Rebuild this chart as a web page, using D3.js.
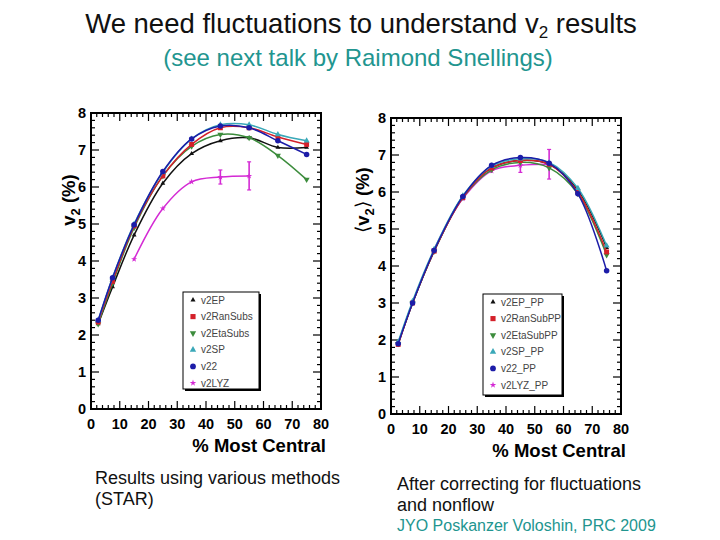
<!DOCTYPE html>
<html>
<head>
<meta charset="utf-8">
<script src="https://cdn.jsdelivr.net/npm/d3@7"></script>
<style>
  body { margin: 0; background: #fff; }
  svg { display: block; font-family: Arial, "Liberation Sans", sans-serif; }
</style>
</head>
<body>
<svg id="chart" width="720" height="540"></svg>
<script>
// centrality bins (% most central)
const centrality = [2.5, 7.5, 15, 25, 35, 45, 55, 65, 75];
const xTicks = [0, 10, 20, 30, 40, 50, 60, 70, 80];
const yTicks = [0, 1, 2, 3, 4, 5, 6, 7, 8];

// left panel: raw STAR results
const leftNames = ["v2EP", "v2RanSubs", "v2EtaSubs", "v2SP", "v22", "v2LYZ"];
const v2EP      = [2.3, 3.3, 4.7, 6.1, 6.9, 7.25, 7.33, 7.07, 7.07];
const v2RanSubs = [2.35, 3.45, 4.95, 6.3, 7.15, 7.6, 7.6, 7.35, 7.15];
const v2EtaSubs = [2.3, 3.4, 4.9, 6.3, 7.1, 7.42, 7.33, 6.85, 6.2];
const v2SP      = [2.4, 3.55, 5.0, 6.4, 7.3, 7.68, 7.68, 7.42, 7.25];
const v22       = [2.4, 3.55, 4.98, 6.42, 7.3, 7.65, 7.6, 7.25, 6.88];
const v2LYZ     = [null, null, 4.05, 5.42, 6.14, 6.27, 6.3, null, null];
const v2LYZerr  = [0, 0, 0, 0, 0, 0.19, 0.38, 0, 0];

// right panel: corrected for fluctuations and nonflow
const rightNames = ["v2EP_PP", "v2RanSubPP", "v2EtaSubPP", "v2SP_PP", "v22_PP", "v2LYZ_PP"];
const v2EP_PP    = [1.9, 3.0, 4.4, 5.88, 6.65, 6.85, 6.75, 6.05, 4.5];
const v2RanSubPP = [1.88, 3.0, 4.4, 5.85, 6.65, 6.85, 6.75, 6.0, 4.38];
const v2EtaSubPP = [1.9, 3.0, 4.4, 5.85, 6.6, 6.8, 6.65, 5.95, 4.3];
const v2SP_PP    = [1.95, 3.05, 4.45, 5.9, 6.7, 6.9, 6.8, 6.1, 4.55];
const v22_PP     = [1.9, 3.0, 4.42, 5.88, 6.72, 6.93, 6.78, 5.95, 3.87];
const v2LYZ_PP   = [null, null, 4.45, 5.82, 6.57, 6.72, 6.75, null, null];
const v2LYZ_PPerr = [0, 0, 0, 0, 0, 0.19, 0.4, 0, 0];

const colors  = ["#111111", "#d4202a", "#3c8c3c", "#3aa8b8", "#1c1ca8", "#d42ad4"];
const symbols = [d3.symbolTriangle, d3.symbolSquare, d3.symbolTriangle, d3.symbolTriangle, d3.symbolCircle, d3.symbolStar];
const symSize = [10, 24, 16, 16, 24, 12];
const symRot  = [0, 0, 180, 0, 0, 0];
const drawOrder = [5, 0, 2, 1, 3, 4];

const svg = d3.select("#chart");

// titles
svg.append("text").attr("x", 361).attr("y", 33).attr("text-anchor", "middle")
  .attr("font-size", 27.5).attr("fill", "#111")
  .html('We need fluctuations to understand v<tspan font-size="17" dy="5">2</tspan><tspan dy="-5"> results</tspan>');
svg.append("text").attr("x", 358).attr("y", 66).attr("text-anchor", "middle")
  .attr("font-size", 24).attr("fill", "#22958f")
  .text("(see next talk by Raimond Snellings)");

function panel(opt) {
  const g = svg.append("g");
  const x = d3.scaleLinear().domain([0, 80]).range([opt.left, opt.right]);
  const y = d3.scaleLinear().domain([0, 8]).range([opt.bottom, opt.top]);

  // minor + major ticks on all sides (pointing inward)
  const xMinor = d3.range(0, 80.01, 2), yMinor = d3.range(0, 8.001, 0.2);
  const tk = g.append("g").attr("stroke", "#000").attr("stroke-width", 1.2);
  xMinor.forEach(v => {
    const L = Math.abs(v % 10) < 1e-6 ? 8 : 4;
    tk.append("line").attr("x1", x(v)).attr("x2", x(v)).attr("y1", opt.bottom).attr("y2", opt.bottom - L);
    tk.append("line").attr("x1", x(v)).attr("x2", x(v)).attr("y1", opt.top).attr("y2", opt.top + L);
  });
  yMinor.forEach(v => {
    const L = Math.abs(v - Math.round(v)) < 1e-6 ? 8 : 4;
    tk.append("line").attr("y1", y(v)).attr("y2", y(v)).attr("x1", opt.left).attr("x2", opt.left + L);
    tk.append("line").attr("y1", y(v)).attr("y2", y(v)).attr("x1", opt.right).attr("x2", opt.right - L);
  });
  g.append("rect").attr("x", opt.left).attr("y", opt.top)
    .attr("width", opt.right - opt.left).attr("height", opt.bottom - opt.top)
    .attr("fill", "none").attr("stroke", "#000").attr("stroke-width", 2);

  // tick labels
  g.selectAll(".xl").data(xTicks).enter().append("text")
    .attr("x", d => x(d)).attr("y", opt.bottom + 20).attr("text-anchor", "middle")
    .attr("font-size", 14.5).attr("font-weight", "bold").text(d => d);
  g.selectAll(".yl").data(yTicks).enter().append("text")
    .attr("x", opt.left - 5).attr("y", d => y(d) + 5).attr("text-anchor", "end")
    .attr("font-size", 14.5).attr("font-weight", "bold").text(d => d);

  // axis titles
  g.append("text").attr("x", opt.right + 5).attr("y", opt.bottom + 43).attr("text-anchor", "end")
    .attr("font-size", 18.5).attr("font-weight", "bold").text("% Most Central");
  g.append("text").attr("transform", `translate(${opt.ytx},${opt.tyc}) rotate(-90)`)
    .attr("text-anchor", "middle").attr("font-size", 18.5).attr("font-weight", "bold")
    .html(opt.ytitle);

  // curves
  const line = d3.line().defined(d => d[1] != null)
    .x(d => x(d[0])).y(d => y(d[1])).curve(d3.curveCatmullRom.alpha(0.5));
  drawOrder.forEach(i => {
    const pts = centrality.map((c, k) => [c, opt.series[i][k]]).filter(d => d[1] != null);
    g.append("path").datum(pts).attr("d", line).attr("fill", "none")
      .attr("stroke", colors[i]).attr("stroke-width", 1.5);
    if (i === 5) {
      const err = pts.map(d => [d[0], d[1], opt.err[centrality.indexOf(d[0])]]).filter(d => d[2] > 0);
      err.forEach(d => {
        g.append("line").attr("x1", x(d[0])).attr("x2", x(d[0]))
          .attr("y1", y(d[1] - d[2])).attr("y2", y(d[1] + d[2]))
          .attr("stroke", colors[i]).attr("stroke-width", 1.6);
        [d[1] - d[2], d[1] + d[2]].forEach(v => g.append("line")
          .attr("x1", x(d[0]) - 2).attr("x2", x(d[0]) + 2).attr("y1", y(v)).attr("y2", y(v))
          .attr("stroke", colors[i]).attr("stroke-width", 1.2));
      });
    }
    g.selectAll(null).data(pts).enter().append("path")
      .attr("d", d3.symbol().type(symbols[i]).size(symSize[i]))
      .attr("transform", d => `translate(${x(d[0])},${y(d[1])}) rotate(${symRot[i]})`)
      .attr("fill", colors[i]);
  });

  // legend
  const lg = g.append("g");
  const lw = opt.leg.w, lh = opt.leg.h;
  lg.append("rect").attr("x", opt.leg.x + 2).attr("y", opt.leg.y + 2).attr("width", lw).attr("height", lh).attr("fill", "#000");
  lg.append("rect").attr("x", opt.leg.x).attr("y", opt.leg.y).attr("width", lw).attr("height", lh)
    .attr("fill", "#fff").attr("stroke", "#000").attr("stroke-width", 1);
  opt.names.forEach((n, i) => {
    const yy = opt.leg.y + 8 + i * 16.6;
    lg.append("path").attr("d", d3.symbol().type(symbols[i]).size(symSize[i] * 1.1))
      .attr("transform", `translate(${opt.leg.x + 10},${yy}) rotate(${symRot[i]})`).attr("fill", colors[i]);
    lg.append("text").attr("x", opt.leg.x + 18).attr("y", yy + 3.5)
      .attr("font-size", 10).attr("fill", "#444").text(n);
  });
}

panel({
  left: 91, right: 321, top: 113, bottom: 409,
  series: [v2EP, v2RanSubs, v2EtaSubs, v2SP, v22, v2LYZ], err: v2LYZerr,
  names: leftNames, leg: { x: 183, y: 292, w: 76, h: 97 },
  ytx: 75, tyc: 200,
  ytitle: 'v<tspan font-size="13" dy="5">2</tspan><tspan dy="-5"> (%)</tspan>'
});
panel({
  left: 391, right: 621, top: 118, bottom: 414,
  series: [v2EP_PP, v2RanSubPP, v2EtaSubPP, v2SP_PP, v22_PP, v2LYZ_PP], err: v2LYZ_PPerr,
  names: rightNames, leg: { x: 483, y: 294, w: 79, h: 101 },
  ytx: 369, tyc: 200,
  ytitle: '<tspan font-weight="normal">\u27E8</tspan>v<tspan font-size="13" dy="5">2</tspan><tspan dy="-5" font-weight="normal">\u27E9</tspan> (%)'
});

// captions
svg.append("text").attr("x", 95).attr("y", 484).attr("font-size", 18).attr("fill", "#111").text("Results using various methods");
svg.append("text").attr("x", 95).attr("y", 505).attr("font-size", 18).attr("fill", "#111").text("(STAR)");
svg.append("text").attr("x", 397).attr("y", 490).attr("font-size", 18).attr("fill", "#111").text("After correcting for fluctuations");
svg.append("text").attr("x", 397).attr("y", 511).attr("font-size", 18).attr("fill", "#111").text("and nonflow");
svg.append("text").attr("x", 397).attr("y", 531).attr("font-size", 16).attr("fill", "#22958f").text("JYO Poskanzer Voloshin, PRC 2009");
</script>
</body>
</html>
